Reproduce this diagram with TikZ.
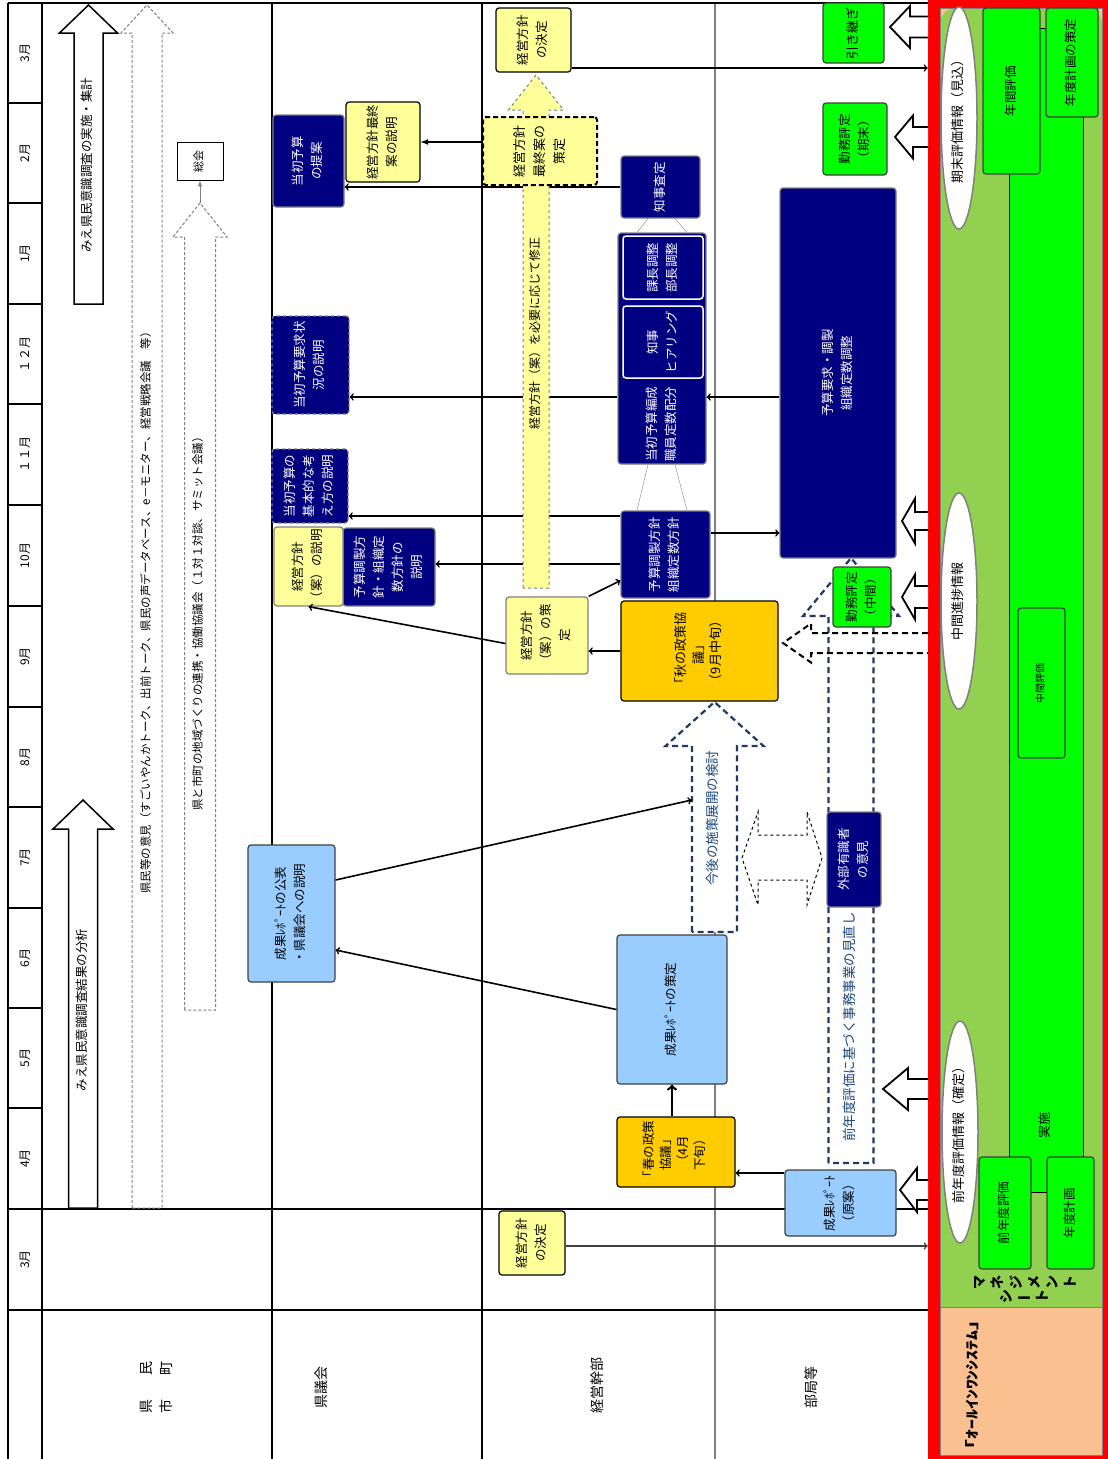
\documentclass[tikz,border=0pt]{standalone}
\usepackage{fontspec}
\setmainfont{Noto Sans CJK JP}
\usepackage{graphicx}
\usetikzlibrary{arrows, shapes.geometric}

\definecolor{navy}{RGB}{0,0,128}
\definecolor{lyellow}{RGB}{255,255,153}
\definecolor{gold}{RGB}{255,204,0}
\definecolor{lblue}{RGB}{153,204,255}
\definecolor{bgreen}{RGB}{0,255,0}
\definecolor{lgreen}{RGB}{146,208,80}
\definecolor{peach}{RGB}{250,192,144}
\definecolor{dblue}{RGB}{31,56,100}
\definecolor{tblue}{RGB}{31,73,125}

\newcommand{\rt}[1]{\rotatebox{90}{\begin{tabular}{@{}c@{}}#1\end{tabular}}}
% block arrows: tip x, tip y, head base, head half width, shaft half width, end
\newcommand{\upblock}[7][]{\draw[#1] ({#2-#6},#7) -- ({#2-#6},#4) -- ({#2-#5},#4) -- (#2,#3) -- ({#2+#5},#4) -- ({#2+#6},#4) -- ({#2+#6},#7) -- cycle;}
\newcommand{\leftblock}[7][]{\draw[#1] (#7,{#3-#6}) -- (#4,{#3-#6}) -- (#4,{#3-#5}) -- (#2,#3) -- (#4,{#3+#5}) -- (#4,{#3+#6}) -- (#7,{#3+#6});}

\tikzset{
  boxbase/.style={rectangle, rounded corners=3pt, inner sep=0pt, line width=1.2pt, font=\fontsize{12.5}{19}\selectfont},
  navybox/.style={boxbase, draw=gray, fill=navy, text=white},
  navydash/.style={navybox, dashed},
  subbox/.style={boxbase, draw=white, line width=1.5pt, fill=navy, text=white},
  ybox/.style={boxbase, draw=gray, fill=lyellow},
  ykbox/.style={boxbase, draw=black, fill=lyellow},
  goldbox/.style={boxbase, draw=black, fill=gold},
  bluebox/.style={boxbase, draw=black!75, fill=lblue},
  greenbox/.style={boxbase, draw=black!75, fill=bgreen},
  info/.style={ellipse, draw=gray, line width=1.5pt, fill=white, inner sep=0pt, font=\fontsize{13}{15}\selectfont},
  lane/.style={font=\fontsize{14}{20}\selectfont},
  month/.style={font=\fontsize{12}{14}\selectfont},
  arrtext/.style={font=\fontsize{12}{14}\selectfont},
  conn/.style={->, line width=1.6pt},
  wblock/.style={draw=black, fill=white, line width=1.8pt},
  navyarrow/.style={draw=dblue, fill=white, line width=2.2pt, dash pattern=on 6pt off 4pt}
}

\begin{document}
\begin{tikzpicture}[x=1pt, y=-1pt, every node/.append style={inner sep=0pt}]
\fill[white] (0,0) rectangle (1108,1459);
\useasboundingbox (0,0) rectangle (1108,1459);

% lanes and months
\draw[line width=2pt] (8,3) -- (8,1459) (42,3) -- (42,1459) (272,3) -- (272,1459) (482,3) -- (482,1459);
\draw[gray, line width=2pt] (715,3) -- (715,1459);
\draw[line width=1.5pt] (8,3) -- (928,3);
\draw[line width=1.5pt] (8,103) -- (42,103) (8,203) -- (42,203) (8,304) -- (42,304) (8,404) -- (42,404) (8,505) -- (42,505) (8,606) -- (42,606) (8,707) -- (42,707) (8,807) -- (42,807) (8,908) -- (42,908) (8,1008) -- (42,1008) (8,1108) -- (42,1108);
\draw[line width=1.2pt] (8,1209) -- (928,1209) (8,1310) -- (928,1310);

\node[month] (m3a) at (25,53) {\rotatebox{90}{3月}};
\node[month] (m2) at (25,153) {\rotatebox{90}{2月}};
\node[month] (m1) at (25,253.5) {\rotatebox{90}{1月}};
\node[month] (m12) at (25,354) {\rotatebox{90}{１２月}};
\node[month] (m11) at (25,454.5) {\rotatebox{90}{１１月}};
\node[month] (m10) at (25,555.5) {\rotatebox{90}{10月}};
\node[month] (m9) at (25,656.5) {\rotatebox{90}{9月}};
\node[month] (m8) at (25,757) {\rotatebox{90}{8月}};
\node[month] (m7) at (25,857.5) {\rotatebox{90}{7月}};
\node[month] (m6) at (25,958) {\rotatebox{90}{6月}};
\node[month] (m5) at (25,1058) {\rotatebox{90}{5月}};
\node[month] (m4) at (25,1158.5) {\rotatebox{90}{4月}};
\node[month] (m3b) at (25,1259.5) {\rotatebox{90}{3月}};

\node[lane] (kenmin) at (157,1387) {\rt{県\hspace{24pt}民\\市\hspace{24pt}町}};
\node[lane] (kengikai) at (322,1387) {\rt{県議会}};
\node[lane] (kanbu) at (598,1385) {\rt{経営幹部}};
\node[lane] (bukyoku) at (812,1387) {\rt{部局等}};

% citizens lane
\upblock[line width=1.5pt, fill=white]{88.5}{5}{33}{29}{14.5}{304}
\node[arrtext, font=\fontsize{12.5}{14}\selectfont] (jisshi) at (88.5,165) {\rt{みえ県民意識調査の実施・集計}};
\upblock[line width=1.5pt, fill=white]{83}{800}{829}{30}{14.5}{1208}
\node[arrtext, font=\fontsize{12.5}{14}\selectfont] (bunseki) at (83,1010) {\rt{みえ県民意識調査結果の分析}};
\upblock[gray, dash pattern=on 3pt off 2pt, line width=1pt]{147}{5}{33}{26}{15}{1208}
\node[arrtext, font=\fontsize{11.5}{14}\selectfont] (iken) at (147,610) {\rt{県民等の意見（すごいやんかトーク、出前トーク、県民の声データベース、e－モニター、経営戦略会議　等）}};
\upblock[gray, dash pattern=on 3pt off 2pt, line width=1pt]{200}{203}{237}{27}{15.5}{1010}
\coordinate (kentip) at (200,203);
\node[arrtext, font=\fontsize{11.5}{14}\selectfont] (renkei) at (199,621) {\rt{県と市町の地域づくりの連携・協働協議会（１対１対談、サミット会議）}};
\node[draw, fill=white, line width=1pt, minimum width=46, minimum height=38, font=\fontsize{11}{13}\selectfont] (sokai) at (200,161) {\rt{総会}};
\draw[-latex, gray, line width=1pt] (kentip) -- (sokai);

% all-in-one system panel
\node[fill=red, minimum width=180, minimum height=1459] (allin) at (1018,729.5) {};
\fill[peach] (940,8) rectangle (1102,1455);
\fill[lgreen, rounded corners=16pt] (940,8) rectangle (1102,1340);
\fill[peach] (940,1307) rectangle (1102,1455);
\draw[gray] (940,8) rectangle (1102,1455) (940,1307) -- (1102,1307);
\draw[line width=1pt, fill=bgreen] (1009,28) rectangle (1083,1192);
\node[greenbox, minimum width=57, minimum height=166] (nenkan) at (1011.5,91) {\rt{年間評価}};
\node[greenbox, minimum width=52, minimum height=109] (nendosaku) at (1072,62.5) {\rt{年度計画の策定}};
\node[greenbox, minimum width=47, minimum height=150, font=\fontsize{10}{12}\selectfont] (chukanhyo) at (1041.5,683) {\rt{中間評価}};
\node[greenbox, minimum width=52, minimum height=112] (zennendo) at (1005,1213) {\rt{前年度評価}};
\node[greenbox, minimum width=47, minimum height=112] (nendokei) at (1070.5,1213) {\rt{年度計画}};
\node[font=\fontsize{13}{15}\selectfont] (jisshi2) at (1046,1125) {\rt{実施}};
\node[info, minimum width=36, minimum height=222] (kimatsu) at (959,118) {\rt{期末評価情報（見込）}};
\node[info, minimum width=36, minimum height=216] (chukan) at (959,601) {\rt{中間進捗情報}};
\node[info, minimum width=36, minimum height=222] (kakutei) at (960,1132) {\rt{前年度評価情報（確定）}};
\node[font=\bfseries\fontsize{14}{14}\selectfont] (mgmt) at (1025,1282) {\rotatebox{90}{マ}\hspace{6pt}\rotatebox{90}{ネ}\hspace{6pt}\rotatebox{90}{ジ}\hspace{6pt}\rotatebox{90}{メ}\hspace{6pt}\rotatebox{90}{ン}\hspace{6pt}\rotatebox{90}{ト}};
\node[font=\bfseries\fontsize{14}{14}\selectfont] (sheet) at (1024,1296) {\rotatebox{90}{シ}\hspace{5pt}ー\hspace{5pt}\rotatebox{90}{ト}};
\node[font=\bfseries\fontsize{14}{14}\selectfont] (aios) at (972,1385) {\rotatebox{90}{\scalebox{1.42}[1]{「ｵｰﾙｲﾝﾜﾝｼｽﾃﾑ」}}};

% dashed arrows
\upblock[navyarrow]{851}{558}{616}{48}{22.5}{1163}
\node[font=\fontsize{13.5}{16}\selectfont, text=tblue] (minaoshi) at (851,1027) {\rt{前年度評価に基づく事務事業の見直し}};
\upblock[navyarrow]{714.5}{702}{746}{49}{22.5}{932}
\node[font=\fontsize{13.5}{16}\selectfont, text=tblue, minimum width=45] (kongo) at (714.5,818) {\rt{今後の施策展開の検討}};
\draw[dashed, line width=1pt] (742,858) -- (758,812) -- (758,835) -- (807,835) -- (807,812) -- (822,858) -- (807,905) -- (807,880) -- (758,880) -- (758,905) -- cycle;

% boxes
\node[navybox, minimum width=71, minimum height=92] (teian) at (308.5,161) {\rt{当初予算\\の提案}};
\node[navydash, minimum width=77, minimum height=98] (yokyu) at (310.5,365) {\rt{当初予算要求状\\況の説明}};
\node[navydash, minimum width=76, minimum height=74] (kihon) at (310,486) {\rt{当初予算の\\基本的な考\\え方の説明}};
\node[navybox, minimum width=92, minimum height=78] (chosetsu) at (389,567) {\rt{予算調製方\\針・組織定\\数方針の\\説明}};
\node[ybox, minimum width=69, minimum height=79] (ansetsu) at (308.5,566.5) {\rt{経営方針\\（案）の説明}};
\node[bluebox, minimum width=87, minimum height=137] (kohyo) at (291.5,913.5) {\rt{成果ﾚﾎﾟｰﾄの公表\\・県議会への説明}};
\node[ykbox, minimum width=74, minimum height=80] (saishu) at (383,142) {\rt{経営方針最終\\案の説明}};
\node[ykbox, minimum width=75, minimum height=64] (kettei) at (533.5,40) {\rt{経営方針\\の決定}};
\node[ybox, minimum width=82, minimum height=77] (ansaku) at (547,635.5) {\rt{経営方針\\（案）の策\\定}};
\node[ykbox, minimum width=66, minimum height=64] (kettei2) at (532,1243) {\rt{経営方針\\の決定}};
\node[navybox, minimum width=79, minimum height=62] (chiji) at (660.5,187) {\rt{知事査定}};
\node[navybox, minimum width=88, minimum height=231] (hensei) at (662,348.5) {};
\node[subbox, minimum width=80, minimum height=63] (kacho) at (663,267.5) {\rt{課長調整\\部長調整}};
\node[subbox, minimum width=80, minimum height=72] (hear) at (663,342) {\rt{知事\\ヒアリング}};
\node[text=white, font=\fontsize{12.5}{19}\selectfont] (henseit) at (662,424) {\rt{当初予算編成\\職員定数配分}};
\node[navybox, minimum width=89, minimum height=87] (hoshin) at (665.5,554.5) {\rt{予算調製方針\\組織定数方針}};
\node[goldbox, minimum width=157, minimum height=100, font=\fontsize{13}{17.5}\selectfont] (aki) at (699.5,651) {\rt{「秋の政策協\\議」\\（9月中旬）}};
\node[goldbox, minimum width=118, minimum height=70, font=\fontsize{12.5}{17}\selectfont] (haru) at (676,1152) {\rt{「春の政策\\協議」\\（4月\\下旬）}};
\node[bluebox, minimum width=110, minimum height=149] (sakutei) at (672,1009.5) {\rt{成果ﾚﾎﾟｰﾄの策定}};
\node[bluebox, minimum width=111, minimum height=66] (genan) at (840.5,1203) {\rt{成果ﾚﾎﾟｰﾄ\\（原案）}};
\node[navybox, minimum width=54, minimum height=95] (yushiki) at (854,859.5) {\rt{外部有識者\\の意見}};
\node[navybox, minimum width=116, minimum height=370] (yosan) at (838,373) {\rt{予算要求・調製\\組織定数調整}};
\node[greenbox, minimum width=61, minimum height=60, font=\fontsize{13}{19}\selectfont] (hikitsugi) at (853.5,33) {\rt{引き継ぎ}};
\node[greenbox, minimum width=64, minimum height=72] (kinmu1) at (855,139) {\rt{勤務評定\\（期末）}};
\node[greenbox, minimum width=58, minimum height=60] (kinmu2) at (862,597) {\rt{勤務評定\\（中間）}};

% connectors
\draw[gray] ([xshift=-12.5pt]chiji.south) -- ([xshift=-25pt]hensei.north);
\draw[gray] ([xshift=14.5pt]chiji.south) -- ([xshift=25pt]hensei.north);
\draw[gray] ([xshift=-14pt]hensei.south) -- ([xshift=-28.5pt]hoshin.north);
\draw[gray] ([xshift=13pt]hensei.south) -- ([xshift=21.5pt]hoshin.north);
\draw[conn] (chiji) -- (chiji -| teian.east);
\draw[conn] ([yshift=-48.5pt]hensei.west) coordinate (h1) -- (h1 -| yokyu.east);
\draw[conn] ([yshift=38.5pt]hoshin.west) coordinate (h2) -- (h2 -| kihon.east);
\draw[conn] ([yshift=-9.5pt]hoshin.west) coordinate (h3) -- (h3 -| chosetsu.east);
\draw[conn] ([yshift=-8pt]ansaku.west) -- (ansetsu.south);
\draw[conn] (ansaku.north east) -- ([yshift=18pt]hoshin.south west);
\draw[conn] (aki.west) -- (aki.west -| ansaku.east);
\draw[conn] ([yshift=21.5pt]hoshin.east) coordinate (h4) -- (h4 -| yosan.west);
\draw[conn] ([yshift=-24pt]yosan.west) coordinate (h5) -- (h5 -| hensei.east);
\draw[conn] (sakutei.west) -- ([yshift=-36.5pt]kohyo.east);
\draw[conn] ([yshift=33.5pt]kohyo.east) -- ([yshift=18pt]kongo.west);
\draw[conn, line width=2.5pt] (haru.north -| sakutei.south) -- (sakutei.south);
\draw[conn] ([yshift=30pt]genan.west) coordinate (h6) -- (h6 -| haru.east);
\draw[conn] ([yshift=-28pt]kettei.east) coordinate (h7) -- (h7 -| allin.west);
\draw[conn, black!75] ([yshift=-3pt]kettei2.east) coordinate (h8) -- (h8 -| allin.west);

% policy revision arrow
\upblock[draw=gray, fill=lyellow, dashed, line width=1pt]{536}{75}{110}{27.5}{13}{588}
\node[arrtext] (shusei) at (536,333) {\rt{経営方針（案）を必要に応じて修正}};
\node[ykbox, dash pattern=on 5pt off 3pt, line width=2pt, minimum width=114, minimum height=68, font=\fontsize{13}{20}\selectfont] (saian) at (540,151) {\rt{経営方針\\最終案の\\策定}};
\draw[-latex, line width=1.6pt] (saian.west |- saishu) -- (saishu.east);

% arrows from the system
\leftblock[draw=black, line width=2pt, dash pattern=on 6pt off 4pt]{783}{643}{811}{19.5}{10}{928}
\leftblock[wblock]{890}{27}{910}{21}{10.5}{928}
\leftblock[wblock]{895}{137}{913}{21.5}{10}{928}
\leftblock[wblock]{902}{521}{915}{22.5}{9}{928}
\leftblock[wblock]{902}{597}{915}{22.5}{11}{928}
\leftblock[wblock]{883}{1089}{908}{21}{10}{928}
\leftblock[wblock]{900}{1190}{917}{22}{10}{928}
\end{tikzpicture}
\end{document}
